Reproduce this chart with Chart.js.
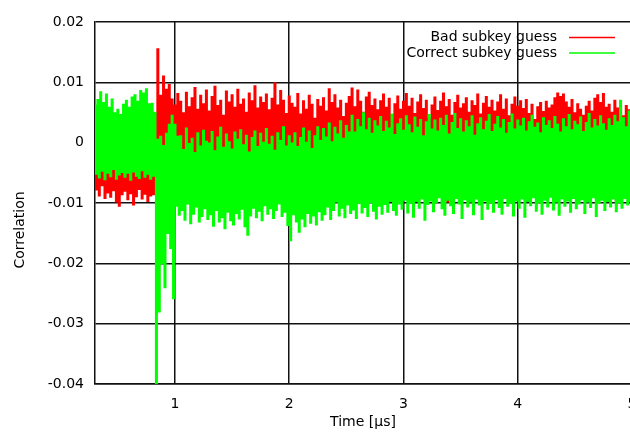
<!DOCTYPE html>
<html>
<head>
<meta charset="utf-8">
<script src="https://cdn.jsdelivr.net/npm/chart.js@4.4.1/dist/chart.umd.min.js"></script>
<style>
  html, body { margin: 0; padding: 0; background: #fff; overflow: hidden; }
  #wrap { width: 630px; height: 432px; overflow: hidden; }
</style>
</head>
<body>
<div id="wrap"><canvas id="myChart" width="680" height="432"></canvas></div>
<script>
// trace samples, one every 12.5 ns from 0.3 us (alternating local max / min)
const startTime = 0.3;
const sampleStep = 0.0125;
const xTicks = [1, 2, 3, 4, 5];
const yTicks = [-0.04, -0.03, -0.02, -0.01, 0, 0.01, 0.02];
const xTitle = 'Time [µs]';
const yTitle = 'Correlation';
const seriesNames = ['Bad subkey guess', 'Correct subkey guess'];

const badGuess = [
  .0031,-.0078,.0045,-.0088,.0022,-.0071,.0038,-.0092,.0027,-.0083,.0049,-.0090,.0018,-.0079,.0035,-.0098,.0026,-.0105,.0041,-.0086,
  .0030,-.0080,.0044,-.0094,.0021,-.0084,.0037,-.0103,.0028,-.0089,.0046,-.0077,.0024,-.0093,.0039,-.0085,.0033,-.0097,.0042,-.0088,
  .0036,-.0086,.0048,-.0060,.0155,-.0015,.0078,-.0008,.0110,-.0020,.0088,-.0005,.0096,-.0025,.0072,-.0040,.0062,-.0055,.0081,-.0048,
  .0068,-.0052,.0049,-.0061,.0083,-.0045,.0059,-.0070,.0074,-.0057,.0091,-.0048,.0055,-.0066,.0078,-.0059,.0064,-.0073,.0087,-.0050,
  .0052,-.0064,.0076,-.0055,.0093,-.0069,.0061,-.0047,.0070,-.0062,.0045,-.0075,.0085,-.0053,.0067,-.0060,.0079,-.0049,.0058,-.0068,
  .0088,-.0057,.0063,-.0071,.0072,-.0052,.0050,-.0064,.0082,-.0058,.0069,-.0046,.0094,-.0067,.0057,-.0061,.0075,-.0054,.0066,-.0072,
  .0080,-.0050,.0054,-.0063,.0073,-.0056,.0099,-.0069,.0062,-.0048,.0086,-.0065,.0070,-.0058,.0048,-.0074,.0077,-.0053,.0065,-.0060,
  .0058,-.0067,.0081,-.0051,.0047,-.0062,.0069,-.0070,.0055,-.0056,.0078,-.0064,.0063,-.0049,.0040,-.0068,.0071,-.0059,.0060,-.0073,
  .0074,-.0054,.0052,-.0066,.0089,-.0058,.0066,-.0071,.0079,-.0050,.0057,-.0063,.0070,-.0055,.0043,-.0069,.0065,-.0061,.0076,-.0052,
  .0090,-.0064,.0059,-.0057,.0087,-.0070,.0068,-.0053,.0050,-.0065,.0075,-.0060,.0083,-.0072,.0061,-.0049,.0072,-.0067,.0054,-.0058,
  .0069,-.0063,.0080,-.0055,.0058,-.0071,.0073,-.0050,.0046,-.0066,.0064,-.0059,.0077,-.0068,.0055,-.0052,.0068,-.0064,.0081,-.0057,
  .0060,-.0070,.0073,-.0054,.0048,-.0066,.0067,-.0060,.0079,-.0073,.0056,-.0051,.0070,-.0065,.0040,-.0058,.0062,-.0069,.0075,-.0056,
  .0053,-.0063,.0068,-.0057,.0082,-.0071,.0059,-.0098,.0071,-.0054,.0045,-.0067,.0066,-.0060,.0078,-.0072,.0057,-.0055,.0064,-.0068,
  .0074,-.0059,.0050,-.0066,.0069,-.0102,.0061,-.0053,.0080,-.0070,.0047,-.0061,.0065,-.0057,.0076,-.0069,.0058,-.0052,.0070,-.0064,
  .0052,-.0071,.0067,-.0058,.0079,-.0065,.0055,-.0054,.0072,-.0068,.0044,-.0060,.0063,-.0099,.0075,-.0056,.0060,-.0067,.0069,-.0053,
  .0056,-.0064,.0071,-.0058,.0048,-.0070,.0063,-.0055,.0038,-.0066,.0059,-.0061,.0066,-.0073,.0051,-.0056,.0068,-.0065,.0057,-.0059,
  .0062,-.0068,.0074,-.0054,.0082,-.0063,.0076,-.0060,.0080,-.0071,.0067,-.0057,.0058,-.0096,.0071,-.0062,.0049,-.0055,.0064,-.0069,
  .0055,-.0058,.0045,-.0066,.0060,-.0052,.0068,-.0070,.0052,-.0061,.0073,-.0056,.0079,-.0067,.0066,-.0059,.0081,-.0073,.0058,-.0054,
  .0063,-.0065,.0050,-.0060,.0070,-.0097,.0057,-.0057,.0067,-.0068,.0044,-.0053,.0061,-.0064,.0054,-.0059,.0066,-.0070,.0058,-.0062
];

const correctGuess = [
  .0062,-.0052,.0071,-.0058,.0084,-.0047,.0066,-.0061,.0080,-.0050,.0058,-.0056,.0072,-.0044,.0049,-.0060,.0055,-.0053,.0046,-.0049,
  .0063,-.0057,.0070,-.0050,.0058,-.0062,.0075,-.0048,.0079,-.0055,.0068,-.0059,.0086,-.0046,.0082,-.0057,.0089,-.0052,.0064,-.0060,
  .0065,-.0055,.0050,-.0410,.0005,-.0280,.0010,-.0200,-.0005,-.0240,.0015,-.0150,.0030,-.0175,.0045,-.0258,.0030,-.0105,.0010,-.0120,
  .0011,-.0112,-.0012,-.0128,.0024,-.0101,-.0002,-.0134,.0007,-.0118,-.0017,-.0106,.0016,-.0131,-.0006,-.0122,.0020,-.0109,.0002,-.0127,
  -.0001,-.0119,.0018,-.0138,-.0014,-.0112,.0009,-.0131,.0025,-.0124,-.0008,-.0142,.0014,-.0115,.0001,-.0129,-.0011,-.0136,.0017,-.0117,
  .0005,-.0126,.0021,-.0110,-.0004,-.0139,.0012,-.0153,-.0016,-.0121,.0008,-.0108,.0019,-.0124,-.0007,-.0113,.0015,-.0129,.0000,-.0104,
  .0023,-.0118,-.0003,-.0109,.0010,-.0125,-.0013,-.0112,.0016,-.0101,.0003,-.0122,.0026,-.0115,-.0006,-.0137,.0011,-.0162,-.0001,-.0119,
  .0016,-.0131,-.0007,-.0148,.0008,-.0126,.0024,-.0139,.0000,-.0117,.0019,-.0133,-.0010,-.0121,.0011,-.0136,.0026,-.0114,.0003,-.0128,
  .0023,-.0119,.0009,-.0106,.0032,-.0127,.0001,-.0112,.0025,-.0098,.0014,-.0121,.0036,-.0108,.0007,-.0124,.0028,-.0103,.0017,-.0117,
  .0045,-.0111,.0017,-.0125,.0038,-.0100,.0026,-.0116,.0049,-.0107,.0021,-.0122,.0040,-.0099,.0015,-.0113,.0036,-.0126,.0027,-.0105,
  .0043,-.0118,.0018,-.0102,.0035,-.0115,.0024,-.0097,.0047,-.0112,.0013,-.0120,.0031,-.0101,.0039,-.0110,.0020,-.0095,.0044,-.0116,
  .0029,-.0100,.0016,-.0123,.0042,-.0097,.0025,-.0108,.0038,-.0093,.0011,-.0128,.0034,-.0102,.0046,-.0096,.0022,-.0114,.0037,-.0099,
  .0019,-.0091,.0040,-.0109,.0028,-.0120,.0045,-.0095,.0014,-.0104,.0033,-.0117,.0048,-.0092,.0023,-.0101,.0039,-.0125,.0017,-.0094,
  .0036,-.0106,.0026,-.0098,.0044,-.0119,.0012,-.0093,.0031,-.0103,.0041,-.0127,.0021,-.0096,.0035,-.0110,.0046,-.0099,.0018,-.0115,
  .0030,-.0094,.0043,-.0107,.0024,-.0118,.0038,-.0092,.0015,-.0105,.0033,-.0100,.0047,-.0121,.0022,-.0096,.0037,-.0108,.0027,-.0093,
  .0040,-.0123,.0019,-.0097,.0034,-.0104,.0045,-.0091,.0025,-.0113,.0032,-.0099,.0016,-.0118,.0041,-.0095,.0028,-.0106,.0036,-.0090,
  .0023,-.0111,.0043,-.0098,.0030,-.0120,.0017,-.0093,.0039,-.0105,.0026,-.0096,.0046,-.0115,.0021,-.0092,.0035,-.0109,.0029,-.0101,
  .0042,-.0094,.0018,-.0117,.0033,-.0098,.0048,-.0107,.0024,-.0091,.0038,-.0122,.0027,-.0100,.0044,-.0095,.0031,-.0112,.0020,-.0097,
  .0039,-.0106,.0028,-.0093,.0045,-.0114,.0034,-.0099,.0070,-.0108,.0041,-.0092,.0026,-.0103,.0052,-.0097,.0036,-.0110,.0030,-.0095
];

function toPoints(values) {
  return values.map((v, i) => ({ x: startTime + i * sampleStep, y: v }));
}

Chart.defaults.font.family = '"DejaVu Sans"';
Chart.defaults.font.size = 14;
Chart.defaults.color = '#000';

// gnuplot style key + axis labels
const gnuplotText = {
  id: 'gnuplotText',
  afterDraw(chart) {
    const ctx = chart.ctx;
    ctx.save();
    ctx.font = '14px "DejaVu Sans"';
    ctx.fillStyle = '#000';
    ctx.textBaseline = 'middle';
    chart.data.datasets.forEach((ds, i) => {
      const y = 37.5 + i * 15.5;
      ctx.textAlign = 'right';
      ctx.fillText(ds.label, 557, y);
      ctx.strokeStyle = ds.borderColor;
      ctx.lineWidth = 1.5;
      ctx.beginPath();
      ctx.moveTo(569, y);
      ctx.lineTo(615, y);
      ctx.stroke();
    });
    ctx.textAlign = 'center';
    ctx.fillText(xTitle, 363, 422);
    ctx.translate(20, 230);
    ctx.rotate(-Math.PI / 2);
    ctx.fillText(yTitle, 0, 0);
    ctx.restore();
  }
};

const ctx = document.getElementById('myChart');
const myChart = new Chart(ctx, {
  type: 'line',
  data: {
    datasets: [
      {
        label: seriesNames[0],
        data: toPoints(badGuess),
        borderColor: '#ff0000',
        borderWidth: 1.6,
        stepped: 'middle',
        pointRadius: 0,
        order: 2,
      },
      {
        label: seriesNames[1],
        data: toPoints(correctGuess),
        borderColor: '#00ff00',
        borderWidth: 1.6,
        stepped: 'middle',
        pointRadius: 0,
        order: 1,
      }
    ]
  },
  options: {
    responsive: false,
    animation: false,
    parsing: false,
    layout: { padding: { left: 0, top: 22, right: 48, bottom: 0 } },
    plugins: {
      legend: { display: false },
      tooltip: { enabled: false },
    },
    scales: {
      x: {
        type: 'linear',
        min: 0.3,
        max: 5,
        afterBuildTicks: s => { s.ticks = xTicks.map(v => ({ value: v })); },
        afterFit: s => { s.height = 48; },
        ticks: { padding: 12, maxRotation: 0, autoSkip: false, callback: v => String(v) },
        grid: { color: '#111', lineWidth: 1.5, drawTicks: false },
        border: { display: true, color: '#111', width: 1.5 },
      },
      y: {
        type: 'linear',
        min: -0.04,
        max: 0.02,
        afterBuildTicks: s => { s.ticks = yTicks.map(v => ({ value: v })); },
        afterFit: s => { s.width = 95; },
        ticks: { padding: 11, autoSkip: false, callback: v => String(v) },
        grid: { color: '#111', lineWidth: 1.5, drawTicks: false },
        border: { display: true, color: '#111', width: 1.5 },
      }
    }
  },
  plugins: [gnuplotText]
});
</script>
</body>
</html>
